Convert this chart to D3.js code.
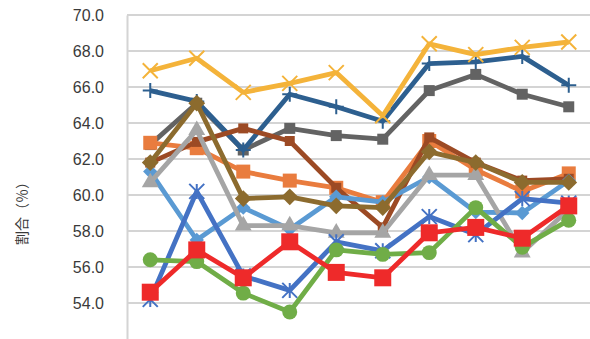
<!DOCTYPE html>
<html>
<head>
<meta charset="utf-8">
<script src="https://cdn.jsdelivr.net/npm/d3@7"></script>
<style>
  html, body { margin: 0; padding: 0; background: #fff; }
</style>
</head>
<body>
<script>
const width = 590;
const height = 339;

// categories (x labels are outside the visible picture)
const categories = ["1", "2", "3", "4", "5", "6", "7", "8", "9", "10"];
const yTicks = [54, 56, 58, 60, 62, 64, 66, 68, 70];

// series values (%)
const darkGray = [62.8, 65.1, 62.5, 63.7, 63.3, 63.1, 65.8, 66.7, 65.6, 64.9];
const darkBlue = [65.8, 65.2, 62.5, 65.6, 64.9, 64.1, 67.3, 67.4, 67.7, 66.1];
const gold = [66.9, 67.6, 65.7, 66.2, 66.8, 64.4, 68.4, 67.8, 68.2, 68.5];
const orange = [62.9, 62.6, 61.3, 60.8, 60.4, 59.6, 63.0, 61.4, 60.2, 61.2];
const brown = [61.8, 62.95, 63.7, 63.0, 60.4, 58.2, 63.2, 61.8, 60.8, 60.9];
const lightBlue = [61.3, 57.5, 59.3, 58.1, 59.9, 59.6, 61.0, 59.05, 59.0, 60.8];
const lightGray = [60.7, 63.6, 58.3, 58.3, 57.9, 57.9, 61.1, 61.1, 56.8, 59.2];
const olive = [61.8, 65.1, 59.8, 59.9, 59.4, 59.3, 62.4, 61.8, 60.7, 60.7];
const royalBlue = [54.2, 60.2, 55.5, 54.7, 57.4, 56.9, 58.8, 57.8, 59.8, 59.55];
const green = [56.4, 56.3, 54.55, 53.5, 56.95, 56.7, 56.8, 59.3, 57.1, 58.6];
const red = [54.6, 56.95, 55.4, 57.4, 55.7, 55.4, 57.9, 58.2, 57.6, 59.4];

// drawing order, later ones on top
const series = [
  { values: darkGray, color: "#636363", marker: "square", size: 11 },
  { values: darkBlue, color: "#2d5f8f", marker: "plus", size: 15 },
  { values: gold, color: "#f4b33a", marker: "cross", size: 15 },
  { values: orange, color: "#e97c3e", marker: "square", size: 14 },
  { values: brown, color: "#9c4a24", marker: "square", size: 10 },
  { values: lightBlue, color: "#5a9ad3", marker: "diamond", size: 12 },
  { values: lightGray, color: "#a5a5a5", marker: "triangle", size: 15 },
  { values: olive, color: "#8c6b2e", marker: "diamond", size: 14 },
  { values: royalBlue, color: "#4472c4", marker: "asterisk", size: 15 },
  { values: green, color: "#70ad47", marker: "circle", size: 15 },
  { values: red, color: "#ee2a2a", marker: "square", size: 17 }
];

const svg = d3.select("body")
  .append("svg")
  .attr("width", width)
  .attr("height", height);

const x = d3.scaleBand()
  .domain(categories)
  .range([127, 592]);

const y = d3.scaleLinear()
  .domain([52, 70])
  .range([339, 15]);

const cx = d => x(d) + x.bandwidth() / 2;

// grid lines
svg.append("g")
  .selectAll("line")
  .data(yTicks)
  .enter()
  .append("line")
  .attr("x1", 127)
  .attr("x2", width)
  .attr("y1", d => y(d))
  .attr("y2", d => y(d))
  .attr("stroke", "#d4d4d4")
  .attr("stroke-width", 2);

// y axis
const yAxis = svg.append("g")
  .attr("transform", "translate(127,0)")
  .call(d3.axisLeft(y).tickValues(yTicks).tickFormat(d3.format(".1f")).tickSize(0).tickPadding(23));

yAxis.select(".domain")
  .attr("stroke", "#d4d4d4")
  .attr("stroke-width", 2);

yAxis.selectAll("text")
  .attr("font-family", "'Liberation Sans', Arial, sans-serif")
  .attr("font-size", 16)
  .attr("fill", "#3a3a3a");

// y label
svg.append("text")
  .attr("transform", "translate(27,210) rotate(-90)")
  .attr("text-anchor", "middle")
  .attr("font-family", "'Noto Sans CJK JP', sans-serif")
  .attr("font-size", 14)
  .attr("fill", "#3a3a3a")
  .text("割合（％）");

// marker paths
function markerPath(type, s) {
  const h = s / 2;
  if (type === "square") return d3.symbol(d3.symbolSquare, s * s)();
  if (type === "diamond") return `M0,${-h * 1.2}L${h * 1.2},0L0,${h * 1.2}L${-h * 1.2},0Z`;
  if (type === "triangle") return d3.symbol(d3.symbolTriangle, s * s * 0.55)();
  if (type === "circle") return d3.symbol(d3.symbolCircle, s * s * 0.78)();
  if (type === "plus") return `M${-h},0L${h},0M0,${-h}L0,${h}`;
  if (type === "cross") return `M${-h},${-h}L${h},${h}M${-h},${h}L${h},${-h}`;
  // asterisk
  return `M${-h},${-h}L${h},${h}M${-h},${h}L${h},${-h}M0,${-h}L0,${h}`;
}

const line = d3.line()
  .x((d, i) => cx(categories[i]))
  .y(d => y(d));

series.forEach(s => {
  const g = svg.append("g");

  g.append("path")
    .datum(s.values)
    .attr("fill", "none")
    .attr("stroke", s.color)
    .attr("stroke-width", 4.8)
    .attr("stroke-linejoin", "round")
    .attr("d", line);

  const lineMarker = ["plus", "cross", "asterisk"].includes(s.marker);

  g.selectAll("path.marker")
    .data(s.values)
    .enter()
    .append("path")
    .attr("class", "marker")
    .attr("transform", (d, i) => `translate(${cx(categories[i])},${y(d)})`)
    .attr("d", markerPath(s.marker, s.size))
    .attr("fill", lineMarker ? "none" : s.color)
    .attr("stroke", s.color)
    .attr("stroke-width", lineMarker ? 2 : 0);
});
</script>
</body>
</html>
